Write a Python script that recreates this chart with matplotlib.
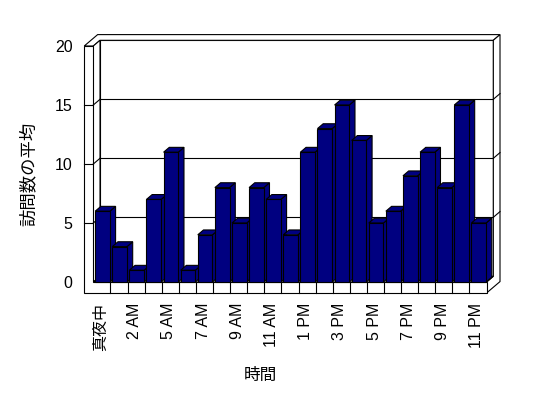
import numpy as np
import matplotlib
matplotlib.use('Agg')
import matplotlib.pyplot as plt
from matplotlib.patches import Polygon

# data
categories = ['真夜中', '1 AM', '2 AM', '3 AM', '5 AM', '6 AM', '7 AM', '8 AM', '9 AM',
              '10 AM', '11 AM', '正午', '1 PM', '2 PM', '3 PM', '4 PM', '5 PM', '6 PM',
              '7 PM', '8 PM', '9 PM', '10 PM', '11 PM']
values = [6, 3, 1, 7, 11, 1, 4, 8, 5, 8, 7, 4, 11, 13, 15, 12, 5, 6, 9, 11, 8, 15, 5]
y_ticks = [0, 5, 10, 15, 20]
x_label = '時間'
y_label = '訪問数の平均'

plt.rcParams['font.family'] = ['Liberation Sans', 'Noto Sans CJK JP']

BAR_COLOR = '#000080'
DX, DY = 0.392, 0.483   # depth offset per unit of depth (x in categories, y in values)
WALL = 0.53             # left wall thickness (category units)
FLOOR = 0.93            # floor thickness (value units)
LW = 0.8

n = len(values)
ymax = y_ticks[-1]

fig = plt.figure(figsize=(5.48, 3.98), dpi=100)
ax = fig.add_axes([93.3 / 548, (398 - 282) / 398, 393.3 / 548, 236 / 398])
ax.set_xlim(0, n)
ax.set_ylim(0, ymax)
ax.patch.set_visible(False)
for s in ax.spines.values():
    s.set_visible(False)


def proj(x, y, z):
    return (x + z * DX, y + z * DY)


def face(pts, zo, fc='white'):
    ax.add_patch(Polygon([proj(*p) for p in pts], closed=True, facecolor=fc,
                         edgecolor='black', lw=LW, clip_on=False, zorder=zo))


def line(p0, p1, zo=1.5):
    a, b = proj(*p0), proj(*p1)
    ax.plot([a[0], b[0]], [a[1], b[1]], color='black', lw=LW, clip_on=False, zorder=zo)


# walls and floor
face([(0, 0, 1), (n, 0, 1), (n, ymax, 1), (0, ymax, 1)], 1)           # back wall
face([(-WALL, ymax, 0), (0, ymax, 0), (0, ymax, 1), (n, ymax, 1),
      (n, ymax, 2), (-WALL, ymax, 2)], 1)                                # top edge
face([(n, ymax, 1), (n, ymax, 2), (n, -FLOOR, 2), (n, -FLOOR, 0),
      (n, 0, 0), (n, 0, 1)], 1)                                          # right side
face([(0, 0, 0), (0, ymax, 0), (0, ymax, 1), (0, 0, 1)], 1)             # left wall inner
face([(0, 0, 0), (n, 0, 0), (n, 0, 1), (0, 0, 1)], 1)                   # floor top
face([(-WALL, -FLOOR, 0), (n, -FLOOR, 0), (n, 0, 0), (0, 0, 0),
      (0, ymax, 0), (-WALL, ymax, 0)], 1)                                # front slab

for v in y_ticks[1:-1]:
    line((0, v, 1), (n, v, 1))
    line((0, v, 0), (0, v, 1))
    line((-WALL, v, 0), (0, v, 0))
    line((n, v, 1), (n, v, 2))
for i in range(1, n):
    line((i, -FLOOR, 0), (i, 0, 0))

# bars
bw, off, depth = 0.86, 0.11, 0.85
for i, v in enumerate(values):
    x0, x1 = i + off, i + off + bw
    face([(x1, 0, 0), (x1, v, 0), (x1, v, depth), (x1, 0, depth)], 3 + 2 * i, BAR_COLOR)
    face([(x0, v, 0), (x1, v, 0), (x1, v, depth), (x0, v, depth)], 3 + 2 * i, BAR_COLOR)
    ax.bar(x0, v, width=bw, align='edge', color=BAR_COLOR, edgecolor='black',
           lw=LW, zorder=4 + 2 * i, clip_on=False)

ax.set_xticks(np.arange(0, n, 2) + 0.42, categories[::2], rotation=90, va='top', ha='center')
ax.set_yticks(y_ticks, [str(t) for t in y_ticks])
ax.tick_params(axis='both', length=0, labelsize=11.5)
ax.tick_params(axis='x', pad=15)
ax.tick_params(axis='y', pad=15)

ax.set_xlabel(x_label, fontsize=12)
ax.xaxis.set_label_coords((260 - 93.3) / 393.3, (282 - 375) / 236)
ax.xaxis.label.set_va('center')
ax.set_ylabel(y_label, fontsize=12.5)
ax.yaxis.set_label_coords((28.3 - 93.3) / 393.3, (282 - 174) / 236)
ax.yaxis.label.set_va('center')

fig.savefig('out.png', dpi=100)
